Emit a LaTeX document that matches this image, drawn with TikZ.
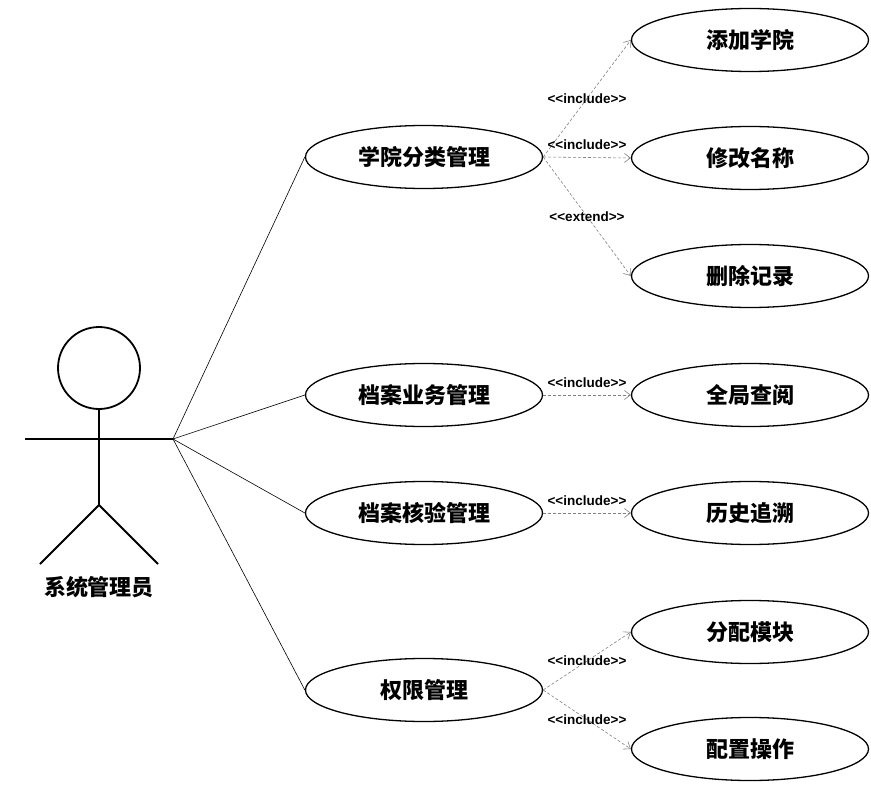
\documentclass[tikz,border=0pt]{standalone}
\usepackage{fontspec}
\setmainfont{Liberation Sans}
\newfontfamily\cjk{Noto Sans CJK SC}
\usetikzlibrary{shapes.geometric,arrows.meta}

% kern keeps << and >> from turning into guillemets
\newcommand\stereotype[1]{<\kern0pt<#1>\kern0pt>}

\tikzset{
    usecase/.style={draw,ellipse,line width=1.3pt,minimum width=237pt,minimum height=63pt,
        inner sep=0pt,font=\cjk\bfseries\fontsize{22}{22}\selectfont},
    actorpart/.style={line width=1.8pt},
    assoc/.style={line width=0.6pt},
    dep/.style={draw=gray,line width=0.6pt,dashed,dash pattern=on 3pt off 2pt,
        -{Straight Barb[length=6pt,width=9pt]}},
    stereo/.style={font=\bfseries\fontsize{13.5}{13.5}\selectfont,inner sep=0pt},
    stereoup/.style={stereo,anchor=base,yshift=8pt}
}

\begin{document}
\begin{tikzpicture}[x=1pt,y=-1pt]
    \useasboundingbox (0,0) rectangle (871,789);

    % actor
    \draw[actorpart] (99,368) circle (41pt);
    \draw[actorpart] (99,409) -- (99,505);
    \draw[actorpart] (25,439) -- (173,439);
    \draw[actorpart] (40,564) -- (99,505) -- (158,564);
    \coordinate (hand) at (173,439);
    \node[font=\cjk\bfseries\fontsize{22}{22}\selectfont] (admin) at (99,587) {系统管理员};

    % use cases
    \node[usecase] (college) at (424,157) {学院分类管理};
    \node[usecase] (business) at (424,395) {档案业务管理};
    \node[usecase] (verify) at (424,513) {档案核验管理};
    \node[usecase] (perm) at (424,690) {权限管理};

    \node[usecase] (add) at (750,40) {添加学院};
    \node[usecase] (rename) at (750,158) {修改名称};
    \node[usecase] (delete) at (750,276) {删除记录};
    \node[usecase] (browse) at (750,395) {全局查阅};
    \node[usecase] (trace) at (750,513) {历史追溯};
    \node[usecase] (assign) at (750,632) {分配模块};
    \node[usecase] (config) at (750,749) {配置操作};

    % associations
    \foreach \uc in {college,business,verify,perm}
        \draw[assoc] (hand) -- (\uc.west);

    % include / extend
    \draw[dep] (college.east) -- node[stereo] {\stereotype{include}} (add.west);
    \draw[dep] (college.east) -- node[stereoup] {\stereotype{include}} (rename.west);
    \draw[dep] (college.east) -- node[stereo] {\stereotype{extend}} (delete.west);
    \draw[dep] (business.east) -- node[stereoup] {\stereotype{include}} (browse.west);
    \draw[dep] (verify.east) -- node[stereoup] {\stereotype{include}} (trace.west);
    \draw[dep] (perm.east) -- node[stereo] {\stereotype{include}} (assign.west);
    \draw[dep] (perm.east) -- node[stereo] {\stereotype{include}} (config.west);
\end{tikzpicture}
\end{document}
